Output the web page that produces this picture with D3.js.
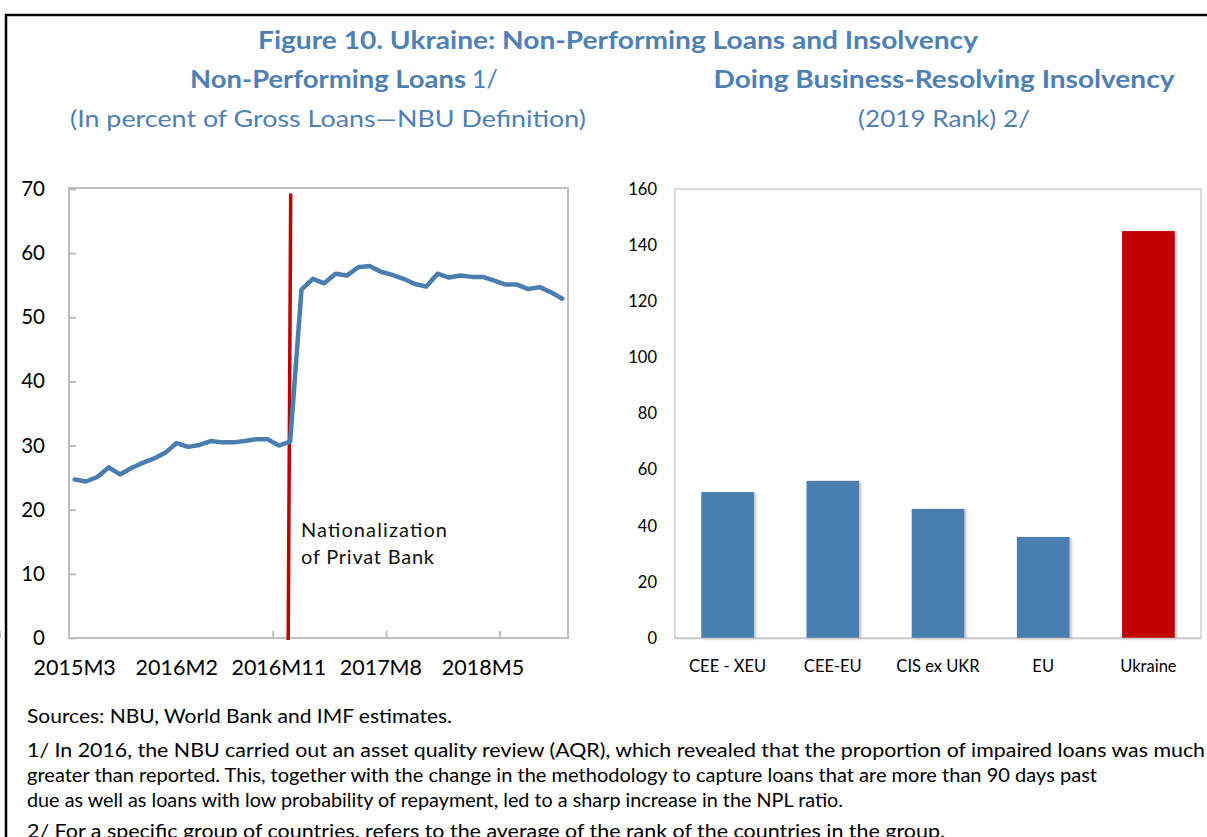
<!DOCTYPE html>
<html>
<head>
<meta charset="utf-8">
<script src="https://cdn.jsdelivr.net/npm/d3@7"></script>
<style>
  body { margin: 0; background: #fff; }
  svg { display: block; }
  text { font-family: Lato, "Open Sans", sans-serif; }
</style>
</head>
<body>
<div id="chart"></div>
<script>
// left panel: NPL ratio, monthly-ish categories
var months = ["2015M3","2015M4","2015M5","2015M6","2015M7","2015M8","2015M9","2015M10","2015M12",
  "2016M2","2016M3","2016M4","2016M5","2016M6","2016M7","2016M8","2016M9","2016M10","2016M11","2016M12",
  "2017M1","2017M2","2017M3","2017M4","2017M5","2017M6","2017M7","2017M8","2017M9","2017M10","2017M11","2017M12",
  "2018M1","2018M2","2018M3","2018M4","2018M5","2018M6","2018M7","2018M8","2018M9","2018M10","2018M11","2018M12"];
var npl = [24.7, 24.4, 25.1, 26.6, 25.5, 26.5, 27.3, 28.0, 28.9, 30.4,
  29.8, 30.1, 30.7, 30.5, 30.5, 30.7, 31.0, 31.0, 30.0, 30.6,
  54.3, 56.0, 55.3, 56.8, 56.5, 57.8, 58.0, 57.1, 56.6, 56.0,
  55.2, 54.8, 56.8, 56.2, 56.5, 56.3, 56.3, 55.7, 55.1, 55.1,
  54.4, 54.7, 53.9, 52.9];
var monthLabels = ["2015M3","2016M2","2016M11","2017M8","2018M5"];
var monthTickMarks = ["2015M3","2016M1","2016M11","2017M9","2018M7"];
var nplTicks = [0,10,20,30,40,50,60,70];

// right panel: doing business rank
var groups = ["CEE - XEU","CEE-EU","CIS ex UKR","EU","Ukraine"];
var ranks = [52, 56, 46, 36, 145];
var rankTicks = [0,20,40,60,80,100,120,140,160];

var footnotes = [
  "Sources: NBU, World Bank and IMF estimates.",
  "1/ In 2016, the NBU carried out an asset quality review (AQR), which revealed that the proportion of impaired loans was much",
  "greater than reported. This, together with the change in the methodology to capture loans that are more than 90 days past",
  "due as well as loans with low probability of repayment, led to a sharp increase in the NPL ratio.",
  "2/ For a specific group of countries, refers to the average of the rank of the countries in the group."
];
var footWidths = [425, 1178, 1070, 816, 918];

var blue = "#4a7eb0";
var titleBlue = "#4f80b5";
var red = "#c00000";
var grey = "#bfbfbf";

var width = 1207, height = 837;
var svg = d3.select("#chart").append("svg")
  .attr("width", width).attr("height", height);

var defs = svg.append("defs");
defs.append("filter").attr("id", "shadow")
  .attr("x", "-10%").attr("y", "-10%").attr("width", "130%").attr("height", "130%")
  .append("feDropShadow").attr("dx", 2).attr("dy", 1).attr("stdDeviation", 1.2)
  .attr("flood-color", "#000").attr("flood-opacity", 0.25);

// outer frame
svg.append("path")
  .attr("d", "M6,837 L6,15 L1207,15")
  .attr("fill", "none").attr("stroke", "#000").attr("stroke-width", 2.5);

// titles
svg.append("text").attr("x", 618).attr("y", 49)
  .attr("text-anchor", "middle").attr("font-size", 25).attr("font-weight", "bold")
  .attr("fill", titleBlue).attr("textLength", 720).attr("lengthAdjust", "spacingAndGlyphs")
  .text("Figure 10. Ukraine: Non-Performing Loans and Insolvency");

svg.append("text").attr("x", 190).attr("y", 88)
  .attr("font-size", 25).attr("font-weight", "bold").attr("fill", titleBlue)
  .attr("textLength", 276).attr("lengthAdjust", "spacingAndGlyphs")
  .text("Non-Performing Loans");
svg.append("text").attr("x", 472).attr("y", 88)
  .attr("font-size", 25).attr("fill", titleBlue)
  .text("1/");
svg.append("text").attr("x", 944).attr("y", 88)
  .attr("text-anchor", "middle").attr("font-size", 25).attr("font-weight", "bold")
  .attr("fill", titleBlue).attr("textLength", 461).attr("lengthAdjust", "spacingAndGlyphs")
  .text("Doing Business-Resolving Insolvency");
svg.append("text").attr("x", 328).attr("y", 127)
  .attr("text-anchor", "middle").attr("font-size", 24).attr("fill", titleBlue)
  .attr("textLength", 516).attr("lengthAdjust", "spacingAndGlyphs")
  .text("(In percent of Gross Loans\u2014NBU Definition)");
svg.append("text").attr("x", 944).attr("y", 127)
  .attr("text-anchor", "middle").attr("font-size", 24).attr("fill", titleBlue)
  .attr("textLength", 172).attr("lengthAdjust", "spacingAndGlyphs")
  .text("(2019 Rank) 2/");

// ---------- left panel ----------
var xL = d3.scaleBand().domain(months).range([69, 568]);
var yL = d3.scaleLinear().domain([0, 70]).range([638, 189]);
var bw = xL.bandwidth();

var left = svg.append("g");

left.append("rect")
  .attr("x", 69).attr("y", yL(70) - 1)
  .attr("width", 568 - 69).attr("height", 638 - yL(70) + 1)
  .attr("fill", "none").attr("stroke", grey).attr("stroke-width", 2);

var yAxisL = left.append("g").attr("transform", "translate(69,0)")
  .call(d3.axisLeft(yL).tickValues(nplTicks).tickSize(-7).tickPadding(24).tickFormat(d3.format("d")));
yAxisL.select(".domain").remove();
yAxisL.selectAll("line").attr("stroke", grey).attr("stroke-width", 2);
yAxisL.selectAll("text").attr("font-size", 20.5).attr("fill", "#000")
  .style("font-family", "Lato, sans-serif");

// tick marks on the category axis (between categories)
left.selectAll("line.xtick")
  .data(monthTickMarks)
  .enter().append("line")
  .attr("class", "xtick")
  .attr("x1", function(d) { return xL(d); })
  .attr("x2", function(d) { return xL(d); })
  .attr("y1", 638).attr("y2", 631)
  .attr("stroke", grey).attr("stroke-width", 2);

var xAxisL = left.append("g").attr("transform", "translate(0,638)")
  .call(d3.axisBottom(xL).tickValues(monthLabels).tickSize(0).tickPadding(22));
xAxisL.select(".domain").remove();
xAxisL.selectAll("text").attr("font-size", 21.5).attr("fill", "#000")
  .style("font-family", "Lato, sans-serif");

// nationalization marker
var eventMonth = "2016M12";
left.append("line")
  .attr("x1", xL(eventMonth) + bw * 0.33).attr("y1", 640)
  .attr("x2", xL(eventMonth) + bw * 0.55).attr("y2", yL(69.3))
  .attr("stroke", red).attr("stroke-width", 3.5);

left.append("path")
  .datum(npl)
  .attr("fill", "none")
  .attr("stroke", blue)
  .attr("stroke-width", 4.5)
  .attr("stroke-linejoin", "round")
  .attr("stroke-linecap", "round")
  .attr("d", d3.line()
    .x(function(d, i) { return xL(months[i]) + bw / 2; })
    .y(function(d) { return yL(d); }));

left.append("text").attr("x", 301).attr("y", 537)
  .attr("font-size", 20).attr("fill", "#111")
  .attr("textLength", 146).attr("lengthAdjust", "spacing")
  .text("Nationalization");
left.append("text").attr("x", 301).attr("y", 564)
  .attr("font-size", 20).attr("fill", "#111")
  .attr("textLength", 133).attr("lengthAdjust", "spacing")
  .text("of Privat Bank");

// ---------- right panel ----------
var xR = d3.scaleBand().domain(groups).range([675, 1201]).paddingInner(0.5).paddingOuter(0.25);
var yR = d3.scaleLinear().domain([0, 160]).range([638, 189]);

var right = svg.append("g");

right.append("rect")
  .attr("x", 675).attr("y", yR(160))
  .attr("width", 1201 - 675).attr("height", 638 - yR(160))
  .attr("fill", "none").attr("stroke", "#d0d0d0").attr("stroke-width", 1.5);

var yAxisR = right.append("g").attr("transform", "translate(675,0)")
  .call(d3.axisLeft(yR).tickValues(rankTicks).tickSize(0).tickPadding(18));
yAxisR.select(".domain").remove();
yAxisR.selectAll("text").attr("font-size", 16.5).attr("fill", "#000")
  .style("font-family", "Lato, sans-serif");

right.selectAll("rect.bar")
  .data(ranks)
  .enter().append("rect")
  .attr("class", "bar")
  .attr("x", function(d, i) { return xR(groups[i]); })
  .attr("y", function(d) { return yR(d); })
  .attr("width", xR.bandwidth())
  .attr("height", function(d) { return 638 - yR(d); })
  .attr("fill", function(d, i) { return groups[i] === "Ukraine" ? red : blue; })
  .attr("filter", "url(#shadow)");

right.append("line")
  .attr("x1", 675).attr("x2", 1201).attr("y1", 638.5).attr("y2", 638.5)
  .attr("stroke", "#c8c8c8").attr("stroke-width", 1.5);

var xAxisR = right.append("g").attr("transform", "translate(0,638)")
  .call(d3.axisBottom(xR).tickSize(0).tickPadding(22));
xAxisR.select(".domain").remove();
xAxisR.selectAll("text").attr("font-size", 16.5).attr("fill", "#000")
  .style("font-family", "Lato, sans-serif");

// ---------- footnotes ----------
var footY = [723, 757, 782, 807, 838];
svg.selectAll("text.foot")
  .data(footnotes)
  .enter().append("text")
  .attr("class", "foot")
  .attr("x", 27)
  .attr("y", function(d, i) { return footY[i]; })
  .attr("font-size", 19.5)
  .attr("fill", "#000")
  .attr("textLength", function(d, i) { return footWidths[i]; })
  .attr("lengthAdjust", "spacingAndGlyphs")
  .text(function(d) { return d; });
</script>
</body>
</html>
